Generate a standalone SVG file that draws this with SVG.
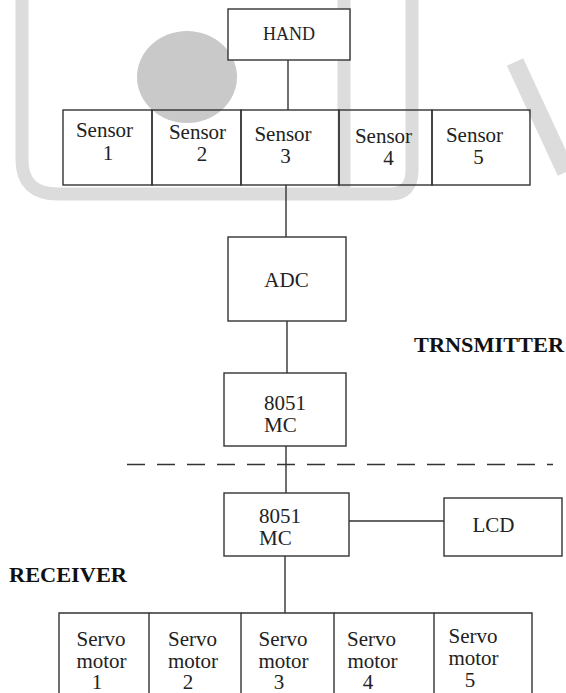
<svg xmlns="http://www.w3.org/2000/svg" width="566" height="693" viewBox="0 0 566 693">
<style>
.box{fill:none;stroke:#333;stroke-width:1.4}
.wbox{fill:#fff;stroke:#333;stroke-width:1.4}
.open{fill:none;stroke:#333;stroke-width:1.4}
.ln{stroke:#333;stroke-width:1.4;fill:none}
.t{font-family:"Liberation Serif","Times New Roman",serif;font-size:21px;fill:#222}
.h{font-family:"Liberation Serif","Times New Roman",serif;font-size:18px;fill:#222}
.b{font-family:"Liberation Serif","Times New Roman",serif;font-size:20px;font-weight:bold;fill:#111}
.wm{fill:none;stroke:#dcdcdc;stroke-width:13}
</style>
<rect x="0" y="0" width="566" height="693" fill="#fff"/>
<g id="watermark">
<path class="wm" d="M 22 0 L 22 160 Q 22 194 58 194 L 390 194 Q 412 194 412 170 L 412 0"/>
<line class="wm" x1="344" y1="0" x2="344" y2="194"/>
<line class="wm" x1="515" y1="62" x2="566" y2="172" style="stroke-width:18"/>
<ellipse cx="187" cy="77" rx="50" ry="46" fill="#c9c9c9"/>
</g>
<g id="connectors">
<line class="ln" x1="288" y1="60" x2="288" y2="110"/>
<line class="ln" x1="286" y1="185" x2="286" y2="237"/>
<line class="ln" x1="287" y1="321" x2="287" y2="373"/>
<line class="ln" x1="286" y1="446" x2="286" y2="493"/>
<line class="ln" x1="349" y1="521" x2="444" y2="521"/>
<line class="ln" x1="285" y1="556" x2="285" y2="613"/>
<line class="ln" x1="127" y1="464.5" x2="553" y2="464.5" stroke-dasharray="18 12"/>
</g>
<g id="hand"><rect class="wbox" x="228" y="9" width="122" height="51"/><text class="h" x="289" y="40" text-anchor="middle">HAND</text></g>
<g id="sensor1"><rect class="box" x="63" y="110" width="89" height="75"/><text class="t" x="104.5" y="137" text-anchor="middle">Sensor</text><text class="t" x="108" y="160" text-anchor="middle">1</text></g>
<g id="sensor2"><rect class="box" x="152" y="110" width="89" height="75"/><text class="t" x="197.5" y="139" text-anchor="middle">Sensor</text><text class="t" x="202" y="161" text-anchor="middle">2</text></g>
<g id="sensor3"><rect class="box" x="241" y="110" width="98" height="75"/><text class="t" x="283" y="141" text-anchor="middle">Sensor</text><text class="t" x="285.5" y="163" text-anchor="middle">3</text></g>
<g id="sensor4"><rect class="box" x="339" y="110" width="93" height="75"/><text class="t" x="383.5" y="143" text-anchor="middle">Sensor</text><text class="t" x="388.5" y="165" text-anchor="middle">4</text></g>
<g id="sensor5"><rect class="box" x="432" y="110" width="98" height="75"/><text class="t" x="474.5" y="142" text-anchor="middle">Sensor</text><text class="t" x="478.5" y="164" text-anchor="middle">5</text></g>
<g id="adc"><rect class="wbox" x="228" y="237" width="118" height="84"/><text class="t" x="286.5" y="287" text-anchor="middle">ADC</text></g>
<g id="mc-tx"><rect class="wbox" x="224" y="373" width="122" height="73"/><text class="t" x="264" y="410">8051</text><text class="t" x="264" y="432">MC</text></g>
<text class="b" x="414" y="352" textLength="150" lengthAdjust="spacingAndGlyphs">TRNSMITTER</text>
<g id="mc-rx"><rect class="wbox" x="224" y="493" width="125" height="63"/><text class="t" x="259" y="523">8051</text><text class="t" x="259" y="545">MC</text></g>
<g id="lcd"><rect class="wbox" x="444" y="498" width="118" height="58"/><text class="t" x="493.5" y="532" text-anchor="middle">LCD</text></g>
<text class="b" x="9" y="582" textLength="118" lengthAdjust="spacingAndGlyphs">RECEIVER</text>
<g id="servo1"><path class="open" d="M 59 700 L 59 613 L 149 613 L 149 700"/><text class="t" x="101" y="646" text-anchor="middle">Servo</text><text class="t" x="101.5" y="668" text-anchor="middle">motor</text><text class="t" x="97" y="689" text-anchor="middle">1</text></g>
<g id="servo2"><path class="open" d="M 149 613 L 241 613 L 241 700"/><text class="t" x="192.5" y="646" text-anchor="middle">Servo</text><text class="t" x="193" y="668" text-anchor="middle">motor</text><text class="t" x="188" y="689" text-anchor="middle">2</text></g>
<g id="servo3"><path class="open" d="M 241 613 L 334 613 L 334 700"/><text class="t" x="283" y="646" text-anchor="middle">Servo</text><text class="t" x="283.5" y="668" text-anchor="middle">motor</text><text class="t" x="279" y="689" text-anchor="middle">3</text></g>
<g id="servo4"><path class="open" d="M 334 613 L 434 613 L 434 700"/><text class="t" x="371.5" y="646" text-anchor="middle">Servo</text><text class="t" x="372.5" y="668" text-anchor="middle">motor</text><text class="t" x="368" y="689" text-anchor="middle">4</text></g>
<g id="servo5"><path class="open" d="M 434 613 L 532 613 L 532 700"/><text class="t" x="473" y="643" text-anchor="middle">Servo</text><text class="t" x="473.5" y="665" text-anchor="middle">motor</text><text class="t" x="470" y="687" text-anchor="middle">5</text></g>
</svg>
